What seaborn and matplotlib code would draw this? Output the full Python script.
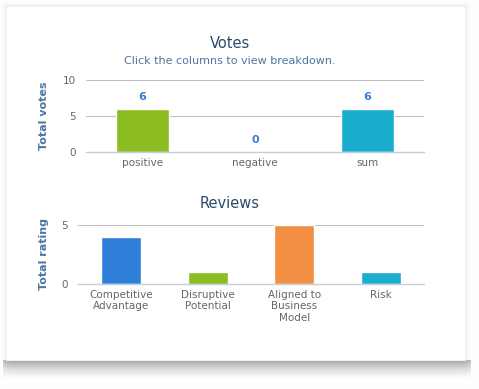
#!/usr/bin/env python3
"""
Votes / Reviews column charts on a white card with a drop shadow.
"""

import matplotlib
matplotlib.use("Agg")
import matplotlib.pyplot as plt
import matplotlib.patches as mpatches
import numpy as np
import pandas as pd
import seaborn as sns

vote_categories = ["positive", "negative", "sum"]
vote_values = [6, 0, 6]
vote_colors = ["#8BBC21", "#2F7ED8", "#1AADCE"]

review_categories = ["Competitive\nAdvantage", "Disruptive\nPotential",
                     "Aligned to\nBusiness\nModel", "Risk"]
review_values = [4, 1, 5, 1]
review_colors = ["#2F7ED8", "#8BBC21", "#F28F43", "#1AADCE"]

W, H = 479, 389
sns.set_theme(style="white")
plt.rcParams["font.family"] = ["DejaVu Sans"]

fig = plt.figure(figsize=(W / 100, H / 100), dpi=100)
fig.patch.set_facecolor("white")


def px_box(x0, y0, x1, y1):
    # pixel box (top-left origin) -> figure fraction [l, b, w, h]
    return [x0 / W, (H - y1) / H, (x1 - x0) / W, (y1 - y0) / H]


# soft card shadow drawn as an image behind everything
CL, CT, CR, CB = 6, 6, 465, 360
yy, xx = np.mgrid[0:H, 0:W].astype(float)
dx = np.maximum(np.maximum(CL - xx, xx - CR), 0)
dy = np.maximum(np.maximum(CT - yy, yy - CB), 0)
side = 0.10 * np.exp(-np.hypot(dx, dy) / 2.0)
db = yy - CB
bottom = np.where((db >= 0) & (xx > CL - 4) & (xx < CR + 6),
                  0.36 * np.clip(1 - db / 20.0, 0, 1) ** 1.6, 0)
edge = np.clip(np.minimum(xx - (CL - 4), (CR + 6) - xx) / 12.0, 0, 1)
bottom = bottom * (0.6 + 0.4 * (1 - np.exp(-edge * 3)))
shade = np.clip(np.maximum(side, bottom), 0, 1)
inside = (xx >= CL) & (xx <= CR) & (yy >= CT) & (yy <= CB)
shade[inside] = 0
rgb = np.ones((H, W, 3)) * (1 - shade[..., None])
bg = fig.add_axes([0, 0, 1, 1], zorder=0)
bg.imshow(rgb, aspect="auto", interpolation="nearest")
bg.axis("off")

l, b, w, h = px_box(CL, CT, CR, CB)
fig.patches.append(mpatches.Rectangle((l, b), w, h, transform=fig.transFigure,
                                      facecolor="white", edgecolor="#ececec",
                                      linewidth=0.5, zorder=1))

TITLE = "#274B6D"
SUB = "#4D759E"
TICK = "#666666"
AXT = "#4D759E"
GRID = "#C0C0C0"
LINE = "#C0D0E0"


def style_axis(ax, n, ymax, yticks):
    ax.set_xlim(-0.5, n - 0.5)
    ax.set_ylim(0, ymax)
    ax.set_facecolor("none")
    for s in ["top", "right", "left"]:
        ax.spines[s].set_visible(False)
    ax.spines["bottom"].set_color(LINE)
    ax.spines["bottom"].set_linewidth(1)
    ax.set_yticks(yticks)
    ax.set_yticklabels([str(t) for t in yticks])
    for t in yticks:
        if t > 0:
            ax.axhline(t, color=GRID, linewidth=0.8, zorder=0)
    ax.set_xticks([i - 0.5 for i in range(n + 1)], minor=True)
    ax.tick_params(axis="x", which="minor", length=5, color=LINE, width=1, direction="out")
    ax.tick_params(axis="x", which="major", length=0, pad=4, labelsize=7.5, labelcolor=TICK)
    ax.tick_params(axis="y", length=0, pad=7, labelsize=7.5, labelcolor=TICK)
    ax.set_xlabel("")


# Votes
ax1 = fig.add_axes(px_box(86, 80, 424, 152), zorder=3)
df_votes = pd.DataFrame({"category": vote_categories, "votes": vote_values})
sns.barplot(data=df_votes, x="category", y="votes", hue="category",
            palette=vote_colors, legend=False, width=0.47, ax=ax1,
            saturation=1, zorder=2)
style_axis(ax1, len(vote_categories), 10, [0, 5, 10])
for c in ax1.containers:
    ax1.bar_label(c, padding=5, color="#3D7AD1", fontsize=8, fontweight="bold")
ax1.set_ylabel("Total votes", color=AXT, fontsize=8, fontweight="bold")
ax1.yaxis.set_label_coords((49 - 86) / 338, 0.5)

# Reviews
ax2 = fig.add_axes(px_box(78, 225, 424, 284), zorder=3)
df_reviews = pd.DataFrame({"category": review_categories, "rating": review_values})
sns.barplot(data=df_reviews, x="category", y="rating", hue="category",
            palette=review_colors, legend=False, width=0.46, ax=ax2,
            saturation=1, zorder=2)
style_axis(ax2, len(review_categories), 5, [0, 5])
ax2.set_ylabel("Total rating", color=AXT, fontsize=8, fontweight="bold")
ax2.yaxis.set_label_coords((49 - 78) / 346, 0.5)

# titles
t1 = fig.text(230 / W, 1 - 44 / H, "Votes", ha="center", va="center", fontsize=10.5, color=TITLE)
t2 = fig.text(230 / W, 1 - 61 / H, "Click the columns to view breakdown.", ha="center",
              va="center", fontsize=8, color=SUB)
t3 = fig.text(230 / W, 1 - 204 / H, "Reviews", ha="center", va="center", fontsize=10.5, color=TITLE)
for t in (t1, t2, t3):
    t.set_zorder(4)

fig.savefig("out.png", dpi=100, facecolor="white")
